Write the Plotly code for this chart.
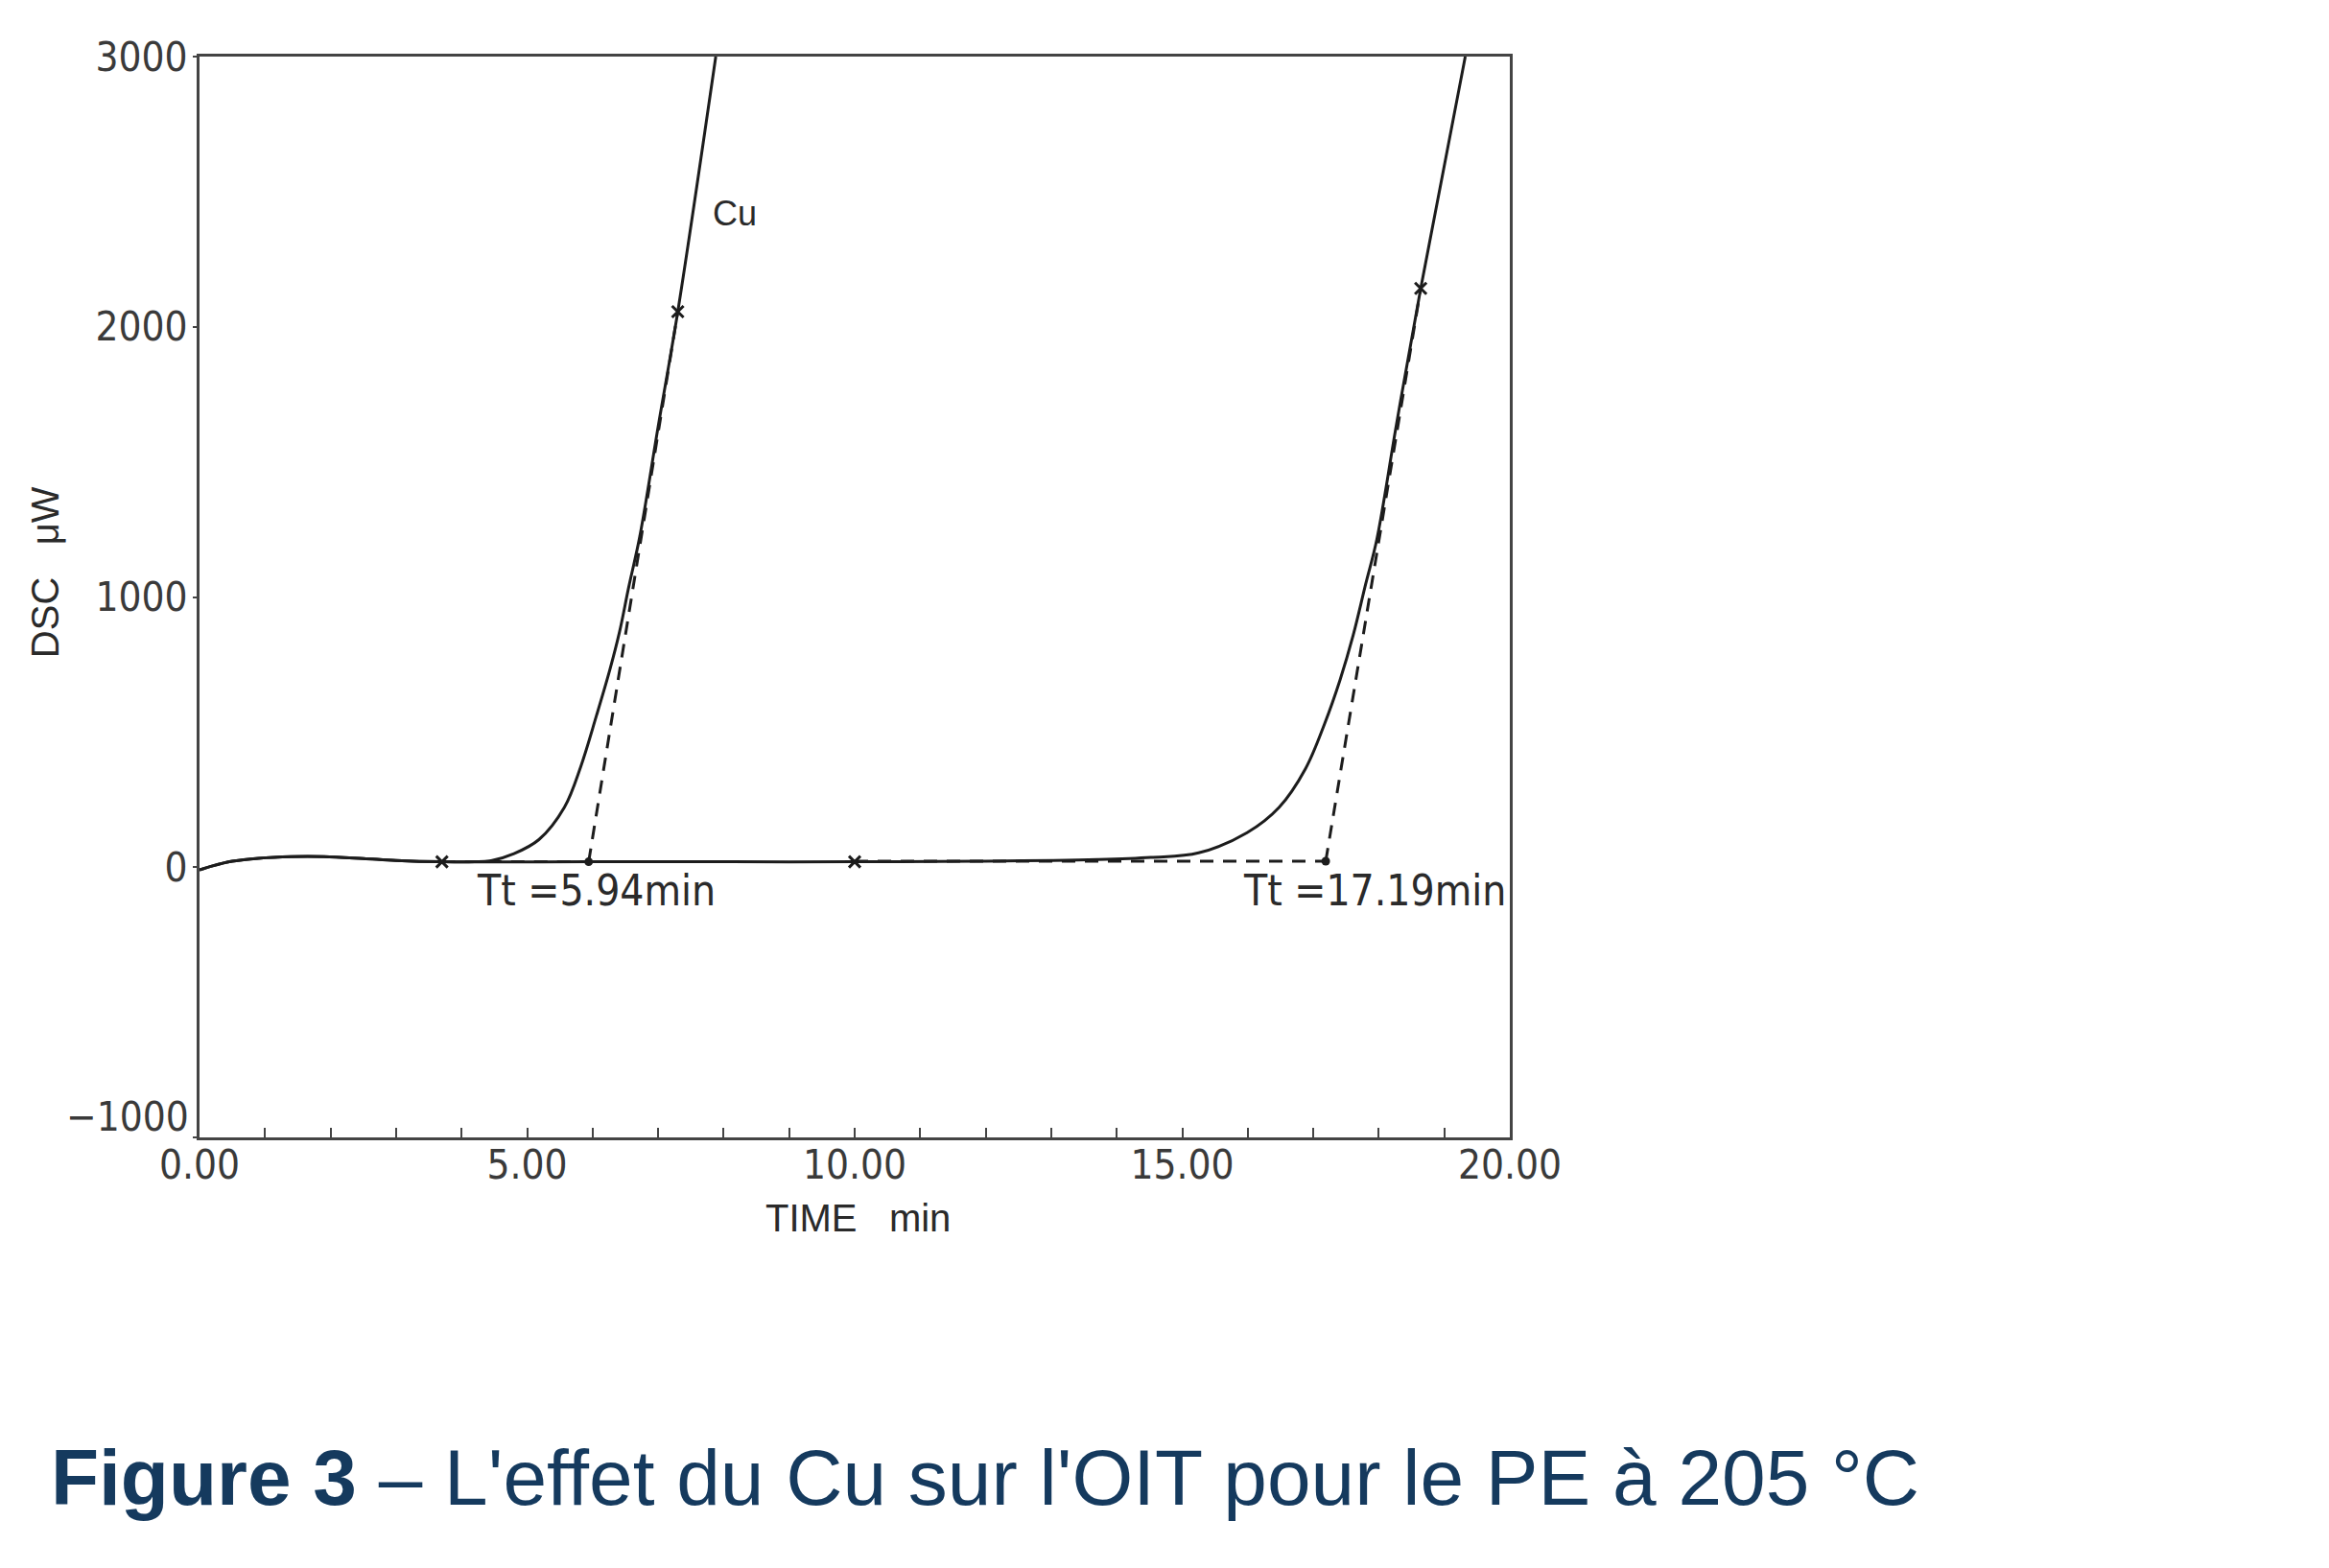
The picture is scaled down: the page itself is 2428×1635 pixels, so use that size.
import plotly.graph_objects as go

# DSC trace with copper (left) and without (right)
time_cu = [0, 0.2, 0.5, 0.9, 1.4, 1.9, 2.5, 3.0, 3.7, 4.2, 4.45, 4.8, 5.18, 5.57, 5.82,
           6.06, 6.26, 6.41, 6.55, 6.72, 7.0, 7.30, 7.88]
dsc_cu = [-10, 5, 22, 33, 39, 39, 32, 25, 20, 20, 24, 50, 102, 222, 373,
          562, 728, 870, 1035, 1224, 1630, 2056, 3000]

time_pe = [0, 0.2, 0.5, 0.9, 1.4, 1.9, 2.5, 3.0, 3.7, 6.0, 8.0, 10.0, 12.0, 13.7, 14.52,
           15.25, 15.99, 16.48, 16.88, 17.17, 17.41, 17.61, 17.80, 17.97, 18.27, 18.64, 19.32]
dsc_pe = [-10, 5, 22, 33, 39, 39, 32, 25, 20, 20, 20, 20, 22, 28, 36,
          53, 128, 222, 364, 529, 694, 859, 1048, 1213, 1639, 2142, 3000]

# onset construction: baseline and tangent (dashed)
base_cu_t = [3.70, 5.94]
base_cu_v = [20, 20]
tang_cu_t = [5.94, 7.30]
tang_cu_v = [20, 2056]
base_pe_t = [10.0, 17.19]
base_pe_v = [22, 22]
tang_pe_t = [17.19, 18.64]
tang_pe_v = [22, 2142]

cross_t = [3.70, 10.0, 7.30, 18.64]
cross_v = [20, 20, 2056, 2142]
onset_t = [5.94, 17.19]
onset_v = [20, 22]
onset_text = ["Tt =5.94min", "Tt =17.19min"]

y_ticks = [-1000, 0, 1000, 2000, 3000]
y_labels = ["", "0", "1000", "2000", "3000"]   # -1000 drawn as annotation, sits a bit higher
x_ticks = [0, 5, 10, 15, 20]
x_labels = ["0.00", "5.00", "10.00", "15.00", "20.00"]

ink = "#1c1c1c"
narrow = "Liberation Sans Narrow, DejaVu Sans Condensed, Liberation Sans, sans-serif"
tick_font = dict(family=narrow, size=42, color="#3a3a3a")

fig = go.Figure()

for t, v in [(base_cu_t, base_cu_v), (tang_cu_t, tang_cu_v), (base_pe_t, base_pe_v), (tang_pe_t, tang_pe_v)]:
    fig.add_trace(go.Scatter(x=t, y=v, mode="lines", line=dict(color=ink, width=3, dash="14px,10px")))

fig.add_trace(go.Scatter(x=time_pe, y=dsc_pe, mode="lines", line=dict(color=ink, width=3, shape="spline", smoothing=1.0)))
fig.add_trace(go.Scatter(x=time_cu, y=dsc_cu, mode="lines", line=dict(color=ink, width=3, shape="spline", smoothing=1.0)))

fig.add_trace(go.Scatter(x=cross_t, y=cross_v, mode="markers",
                         marker=dict(symbol="x-thin", size=12, line=dict(color=ink, width=3))))
fig.add_trace(go.Scatter(x=onset_t, y=onset_v, mode="markers",
                         marker=dict(symbol="circle", size=9, color=ink)))

# labels
for t, txt in zip(onset_t, onset_text):
    fig.add_annotation(x=t, y=-86, text=txt, showarrow=False, xanchor="center",
                       xshift=51 if t > 10 else 8,
                       font=dict(family=narrow, size=44, color="#2a2a2a"))
fig.add_annotation(x=7.80, y=2418, text="Cu", showarrow=False, xanchor="left",
                   font=dict(family="Liberation Sans, sans-serif", size=36, color="#2a2a2a"))
fig.add_annotation(x=0, y=y_ticks[0], text="\u22121000", showarrow=False, xanchor="right",
                   xshift=-9, yshift=22, font=tick_font)

fig.add_annotation(x=0, y=1090, xref="x", yref="y", text="DSC&nbsp;&nbsp;&nbsp;\u03bcW", textangle=-90,
                   showarrow=False, xshift=-161,
                   font=dict(family="Liberation Sans, sans-serif", size=40, color="#2a2a2a"))
fig.add_annotation(x=10.05, y=0, xref="x", yref="paper", text="TIME&nbsp;&nbsp;&nbsp;min", showarrow=False,
                   yanchor="middle", yshift=-84,
                   font=dict(family="Liberation Sans, sans-serif", size=40, color="#2a2a2a"))

fig.add_annotation(x=0, y=0, xref="paper", yref="paper", xanchor="left", yanchor="middle",
                   xshift=-157, yshift=-354, showarrow=False,
                   text="<b>Figure 3</b> \u2013 L'effet du Cu sur l'OIT pour le PE \u00e0 205 \u00b0C",
                   font=dict(family="Liberation Sans, Arial, sans-serif", size=82, color="#153a5e"))

fig.update_xaxes(range=[0, 20], tickvals=x_ticks, ticktext=x_labels, ticks="inside", ticklen=10,
                 tickwidth=2, tickcolor="#444", minor=dict(dtick=1, ticks="inside", ticklen=10, tickwidth=2, tickcolor="#444"),
                 showline=True, linecolor="#444", linewidth=3, mirror=True, showgrid=False, zeroline=False,
                 tickfont=tick_font, ticklabelstandoff=-10)
fig.update_yaxes(range=[-1000, 3000], tickvals=y_ticks, ticktext=y_labels, ticks="outside", ticklen=4,
                 tickwidth=2, tickcolor="#444", showline=True, linecolor="#444", linewidth=3, mirror=True,
                 showgrid=False, zeroline=False, tickfont=tick_font, ticklabelstandoff=-3)

fig.update_layout(width=2428, height=1635, showlegend=False, plot_bgcolor="white", paper_bgcolor="white",
                  margin=dict(l=200, r=862, t=51, b=457))

fig.write_html("out.html")
